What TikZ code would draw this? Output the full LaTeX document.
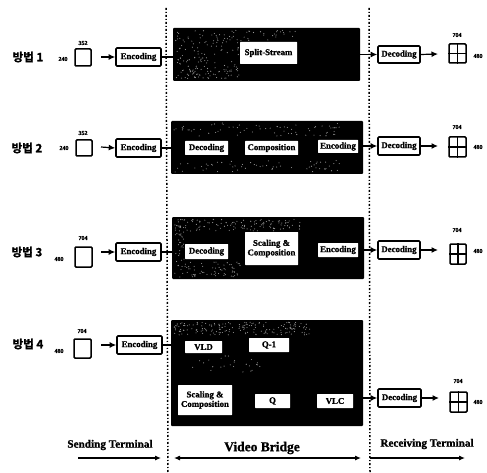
\documentclass[tikz,border=0pt]{standalone}
\usepackage{fontspec}
\setmainfont{Liberation Serif}[BoldFeatures={FakeBold=1.2}]
\newfontfamily\kofont{Noto Sans CJK KR}[BoldFont={Noto Sans CJK KR Bold},BoldFeatures={FakeBold=1.5}]
\usetikzlibrary{arrows.meta}
\tikzset{
  x=1pt,y=-1pt,
  lbl/.style={inner sep=0pt,font=\bfseries\fontsize{11.2}{12}\selectfont,align=center},
  enc/.style={draw,line width=1.6pt,rounded corners=1pt,inner sep=0pt,font=\bfseries\fontsize{8.8}{8.8}\selectfont},
  whitebox/.style={fill=white,inner sep=0pt,rounded corners=0.5pt,font=\bfseries\fontsize{8.8}{9.5}\selectfont,align=center},
  bridge/.style={fill=black,inner sep=0pt,rounded corners=1pt},
  frame/.style={draw,line width=1.5pt,fill=white,rounded corners=1pt,inner sep=0pt},
  dim/.style={inner sep=0pt,font=\bfseries\fontsize{6}{6}\selectfont},
  method/.style={inner sep=0pt,font=\kofont\bfseries\fontsize{11.5}{12}\selectfont},
  flow/.style={line width=1.2pt,-{Latex[length=6.5pt,width=6pt]}},
  link/.style={line width=1.2pt},
  term/.style={line width=1.1pt,-{Latex[length=6pt,width=5pt]}},
  divider/.style={line width=1.5pt,dash pattern=on 2pt off 2pt on 1pt off 2pt}
}
% \bx{style}{name}{x1}{y1}{x2}{y2}{text}
\newcommand{\bx}[7]{%
  \pgfmathsetmacro{\cxx}{(#3+#5)/2}\pgfmathsetmacro{\cyy}{(#4+#6)/2}%
  \pgfmathsetmacro{\wdd}{#5-#3}\pgfmathsetmacro{\htt}{#6-#4}%
  \node[#1,minimum width=\wdd pt,minimum height=\htt pt] (#2) at (\cxx,\cyy) {#7};}
% \gridframe{name}{x1}{y1}{x2}{y2}
\newcommand{\gridframe}[5]{%
  \bx{frame}{#1}{#2}{#3}{#4}{#5}{}%
  \draw[line width=1.5pt] (#1.north) -- (#1.south) (#1.west) -- (#1.east);}
% sparse speckle: \speck{x1}{y1}{x2}{y2}{count}
\newcommand{\speck}[5]{%
  \foreach \k in {1,...,#5}{%
    \pgfmathsetmacro{\px}{#1+rnd*(#3-#1)}\pgfmathsetmacro{\py}{#2+rnd*(#4-#2)}%
    \fill[white!60!black] (\px,\py) circle (0.55);}}
\begin{document}
\begin{tikzpicture}
\pgfmathsetseed{12}
\useasboundingbox (0,0) rectangle (487,473);
\fill[white] (0,0) rectangle (487,473);

% dividers
\coordinate (d1t) at (166,8); \coordinate (d1b) at (168,473);
\coordinate (d2t) at (369,8); \coordinate (d2b) at (370,473);
\draw[divider] (d1t) -- (d1b);
\draw[divider] (d2t) -- (d2b);

% Row 1
\node[method] (m1) at (28,57) {방법 1};
\node[dim] (w1) at (63,59) {240};
\bx{frame}{s1}{75}{49}{91}{66}{}
\node[dim] (t1) at (83,43) {352};
\coordinate (s1a) at (101,57);
\bx{enc}{e1}{116}{48}{161}{66}{Encoding}
\bx{bridge}{b1}{173}{28}{360}{81}{}
\speck{175}{30}{240}{79}{170}
\speck{240}{30}{300}{41}{25}
\bx{whitebox}{i1}{240}{42}{297}{64}{Split-Stream}
\bx{enc}{d1}{378}{46}{420}{63}{Decoding}
\coordinate (d1a) at (438,54);
\gridframe{g1}{449}{44}{466}{63}
\node[dim] (u1) at (457,35) {704};
\node[dim] (v1) at (478,56) {480};
\draw[flow] (s1a) -- (e1.west);
\draw[link] (e1.east) -- (e1.east -| b1.west);
\draw[flow] (d1.west -| b1.east) -- (d1.west);
\draw[flow] (d1.east) -- (d1a);

% Row 2
\node[method] (m2) at (27,148) {방법 2};
\node[dim] (w2) at (64,148) {240};
\bx{frame}{s2}{76}{140}{92}{156}{}
\node[dim] (t2) at (83,133) {352};
\coordinate (s2a) at (101,147);
\bx{enc}{e2}{116}{139}{161}{157}{Encoding}
\bx{bridge}{b2}{171}{121}{363}{174}{}
\speck{173}{123}{340}{136}{70}
\speck{173}{160}{340}{172}{60}
\bx{whitebox}{i2a}{185}{141}{228}{155}{Decoding}
\bx{whitebox}{i2b}{245}{141}{298}{155}{Composition}
\bx{whitebox}{i2c}{318}{140}{358}{153}{Encoding}
\bx{enc}{d2}{378}{137}{420}{155}{Decoding}
\coordinate (d2a) at (438,146);
\gridframe{g2}{449}{137}{466}{157}
\node[dim] (u2) at (457,127) {704};
\node[dim] (v2) at (478,147) {480};
\draw[flow] (s2a) -- (e2.west);
\draw[link] (e2.east) -- (e2.east -| b2.west);
\draw[flow] (d2.west -| b2.east) -- (d2.west);
\draw[flow] (d2.east) -- (d2a);

% Row 3
\node[method] (m3) at (27,252) {방법 3};
\node[dim] (w3) at (59,259) {480};
\bx{frame}{s3}{75}{247}{92}{267}{}
\node[dim] (t3) at (83,238) {704};
\coordinate (s3a) at (101,252);
\bx{enc}{e3}{116}{243}{161}{261}{Encoding}
\bx{bridge}{b3}{172}{217}{364}{279}{}
\speck{174}{219}{300}{231}{130}
\speck{174}{262}{240}{277}{70}
\speck{174}{232}{184}{262}{25}
\bx{whitebox}{i3a}{185}{244}{228}{259}{Decoding}
\bx{whitebox}{i3b}{245}{232}{298}{265}{Scaling \&\\Composition}
\bx{whitebox}{i3c}{318}{243}{358}{257}{Encoding}
\bx{enc}{d3}{378}{241}{420}{259}{Decoding}
\coordinate (d3a) at (438,250);
\gridframe{g3}{450}{244}{466}{264}
\node[dim] (u3) at (457,230) {704};
\node[dim] (v3) at (478,251) {480};
\draw[flow] (s3a) -- (e3.west);
\draw[link] (e3.east) -- (e3.east -| b3.west);
\draw[flow] (d3.west -| b3.east) -- (d3.west);
\draw[flow] (d3.east) -- (d3a);

% Row 4
\node[method] (m4) at (28,344) {방법 4};
\node[dim] (w4) at (59,351) {480};
\bx{frame}{s4}{74}{339}{91}{358}{}
\node[dim] (t4) at (82,331) {704};
\coordinate (s4a) at (101,345);
\bx{enc}{e4}{117}{336}{162}{354}{Encoding}
\bx{bridge}{b4}{171}{320}{363}{426}{}
\speck{173}{322}{310}{335}{170}
\speck{190}{355}{260}{372}{25}
\bx{whitebox}{i4a}{185}{341}{222}{353}{VLD}
\bx{whitebox}{i4b}{249}{338}{289}{352}{Q-1}
\bx{whitebox}{i4c}{178}{385}{232}{415}{Scaling \&\\Composition}
\bx{whitebox}{i4d}{255}{394}{290}{408}{Q}
\bx{whitebox}{i4e}{317}{394}{353}{408}{VLC}
\bx{enc}{d4}{378}{389}{421}{407}{Decoding}
\coordinate (d4a) at (439,398);
\gridframe{g4}{450}{392}{467}{412}
\node[dim] (u4) at (458,381) {704};
\node[dim] (v4) at (478,402) {480};
\draw[flow] (s4a) -- (e4.west);
\draw[link] (e4.east) -- (e4.east -| b4.west);
\draw[flow] (d4.west -| b4.east) -- (d4.west);
\draw[flow] (d4.east) -- (d4a);

% Bottom
\node[lbl] (n1) at (110,445) {Sending Terminal};
\node[lbl,font=\bfseries\fontsize{13.5}{14}\selectfont] (n2) at (262,448) {Video Bridge};
\node[lbl] (n3) at (427,444) {Receiving Terminal};
\coordinate (a1l) at (78,458); \coordinate (a1r) at (161,458);
\coordinate (a2l) at (174,458); \coordinate (a2r) at (361,458);
\coordinate (a3l) at (370,458); \coordinate (a3r) at (465,458);
\draw[term] (a1l) -- (a1r);
\draw[term,{Latex[length=6pt,width=5pt]}-{Latex[length=6pt,width=5pt]}] (a2l) -- (a2r);
\draw[term] (a3l) -- (a3r);
\end{tikzpicture}
\end{document}
